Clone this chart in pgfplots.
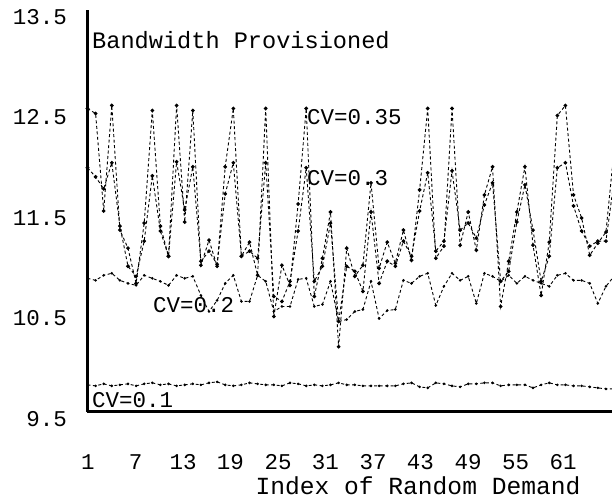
\documentclass[border=0pt]{standalone}
\usepackage{pgfplots}
\pgfplotsset{compat=1.18}
\usepackage{fontspec}
\setmainfont{Liberation Mono}
\newcommand{\fs}{\fontsize{22.5}{24}\selectfont}
\newcommand{\fsb}{\fontsize{23.6}{25}\selectfont}
\newcommand{\fsc}{\fontsize{24.6}{26}\selectfont}
\begin{document}
\begin{tikzpicture}
\useasboundingbox (-87.5pt,-90pt) rectangle (524.5pt,412pt);
\begin{axis}[
  at={(0,0)}, anchor=south west,
  scale only axis, width=524.5pt, height=402pt,
  xmin=1, xmax=65.75, ymin=9.5, ymax=13.5,
  axis x line*=bottom, axis y line*=left,
  axis line style={line width=3pt,-},
  clip mode=individual,
  /pgf/number format/assume math mode=true,
  xtick={1.06,6.93,12.79,18.65,24.52,30.38,36.25,42.1,47.99,53.85,59.7},
  xticklabels={1,7,13,19,25,31,37,43,49,55,61},
  ytick={9.5,10.5,11.5,12.5,13.5},
  yticklabels={9.5,10.5,11.5,12.5,13.5},
  major tick length=0pt,
  ticklabel style={font=\fs},
  xticklabel style={anchor=center, yshift=-50pt},
  yticklabel style={anchor=east, xshift=-17pt, yshift=-7pt},
  every axis plot/.append style={black, line width=0.9pt, dash pattern=on 3pt off 2.5pt, mark options={solid}},
]
% CV=0.35
\addplot[mark=*, mark size=1.4pt] coordinates {
(1,12.52)(2,12.47)(3,11.50)(4,12.55)(5,11.31)(6,11.13)(7,10.78)(8,11.38)(9,12.50)(10,11.35)
(11,11.05)(12,12.55)(13,11.39)(14,12.50)(15,10.96)(16,11.21)(17,10.95)(18,11.94)(19,12.52)(20,11.05)
(21,11.19)(22,10.86)(23,12.52)(24,10.45)(25,10.96)(26,10.76)(27,11.57)(28,12.52)(29,10.65)(30,11.03)
(31,11.49)(32,10.15)(33,11.13)(34,10.85)(35,10.96)(36,11.78)(37,10.93)(38,11.19)(39,10.98)(40,11.31)
(41,11.01)(42,11.71)(43,12.52)(44,11.03)(45,11.15)(46,12.52)(47,11.16)(48,11.49)(49,11.11)(50,11.66)
(51,11.94)(52,10.55)(53,11.00)(54,11.49)(55,11.94)(56,11.16)(57,10.66)(58,11.19)(59,12.45)(60,12.55)
(61,11.66)(62,11.43)(63,11.06)(64,11.18)(65,11.29)(66,12.10)
};
% CV=0.3
\addplot[mark=*, mark size=1.4pt] coordinates {
(1,11.93)(2,11.84)(3,11.72)(4,11.98)(5,11.35)(6,10.95)(7,10.85)(8,11.20)(9,11.85)(10,11.30)
(11,11.05)(12,11.99)(13,11.51)(14,11.94)(15,11.00)(16,11.10)(17,10.97)(18,11.67)(19,11.98)(20,11.05)
(21,11.10)(22,11.03)(23,11.98)(24,10.65)(25,10.60)(26,10.80)(27,11.30)(28,11.93)(29,10.80)(30,10.95)
(31,11.38)(32,10.40)(33,10.95)(34,10.90)(35,10.70)(36,11.49)(37,10.78)(38,11.00)(39,10.95)(40,11.20)
(41,11.05)(42,11.50)(43,11.88)(44,11.10)(45,11.20)(46,11.90)(47,11.31)(48,11.38)(49,11.23)(50,11.56)
(51,11.78)(52,10.80)(53,10.90)(54,11.39)(55,11.76)(56,11.31)(57,10.80)(58,11.05)(59,11.93)(60,11.98)
(61,11.55)(62,11.30)(63,11.15)(64,11.20)(65,11.20)(66,11.80)
};
% CV=0.2
\addplot[mark=*, mark size=0.8pt] coordinates {
(1,10.83)(2,10.81)(3,10.86)(4,10.88)(5,10.81)(6,10.78)(7,10.76)(8,10.86)(9,10.83)(10,10.80)
(11,10.76)(12,10.86)(13,10.83)(14,10.85)(15,10.66)(16,10.50)(17,10.61)(18,10.78)(19,10.86)(20,10.60)
(21,10.60)(22,10.86)(23,10.80)(24,10.50)(25,10.55)(26,10.55)(27,10.82)(28,10.83)(29,10.55)(30,10.57)
(31,10.80)(32,10.40)(33,10.42)(34,10.50)(35,10.52)(36,10.80)(37,10.43)(38,10.51)(39,10.52)(40,10.81)
(41,10.78)(42,10.85)(43,10.88)(44,10.56)(45,10.75)(46,10.88)(47,10.81)(48,10.85)(49,10.58)(50,10.88)
(51,10.85)(52,10.80)(53,10.86)(54,10.78)(55,10.85)(56,10.81)(57,10.78)(58,10.75)(59,10.86)(60,10.88)
(61,10.81)(62,10.81)(63,10.78)(64,10.58)(65,10.75)(66,10.85)
};
% CV=0.1
\addplot[mark=*, mark size=0.8pt] coordinates {
(1,9.77)(2,9.76)(3,9.78)(4,9.76)(5,9.77)(6,9.78)(7,9.76)(8,9.78)(9,9.79)(10,9.77)
(11,9.78)(12,9.76)(13,9.77)(14,9.78)(15,9.77)(16,9.79)(17,9.80)(18,9.77)(19,9.76)(20,9.77)
(21,9.79)(22,9.78)(23,9.77)(24,9.77)(25,9.76)(26,9.79)(27,9.78)(28,9.76)(29,9.77)(30,9.76)
(31,9.77)(32,9.79)(33,9.77)(34,9.77)(35,9.76)(36,9.76)(37,9.76)(38,9.76)(39,9.76)(40,9.78)
(41,9.79)(42,9.75)(43,9.74)(44,9.79)(45,9.78)(46,9.76)(47,9.75)(48,9.78)(49,9.78)(50,9.79)
(51,9.79)(52,9.76)(53,9.77)(54,9.77)(55,9.77)(56,9.74)(57,9.77)(58,9.79)(59,9.77)(60,9.77)
(61,9.76)(62,9.76)(63,9.75)(64,9.74)(65,9.73)(66,9.73)
};
\node[anchor=west, inner sep=0pt, font=\fsb] at (axis cs:1.56,13.2) {Bandwidth Provisioned};
\node[anchor=west, inner sep=0pt, font=\fs] at (axis cs:28.1,12.43) {CV=0.35};
\node[anchor=west, inner sep=0pt, font=\fs] at (axis cs:28.1,11.83) {CV=0.3};
\node[anchor=west, inner sep=0pt, font=\fs] at (axis cs:9.09,10.56) {CV=0.2};
\node[anchor=west, inner sep=0pt, font=\fs] at (axis cs:1.56,9.62) {CV=0.1};
\node[anchor=center, inner sep=0pt, font=\fsc] at (axis cs:41.8,8.77) {Index of Random Demand};
\end{axis}
\end{tikzpicture}
\end{document}
